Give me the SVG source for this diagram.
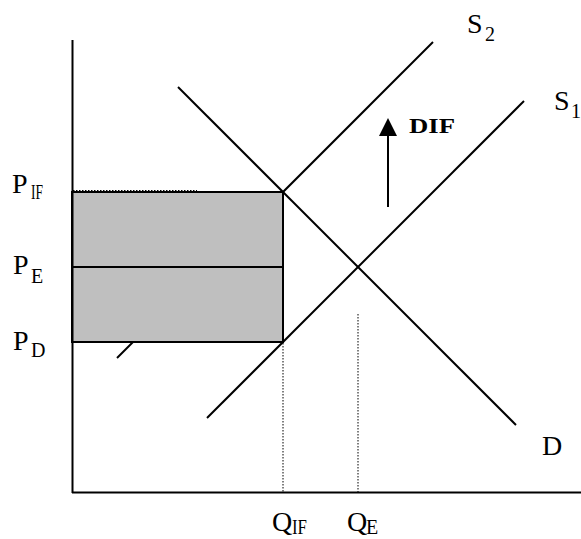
<svg xmlns="http://www.w3.org/2000/svg" width="581" height="539" viewBox="0 0 581 539">
<style>
.ln{stroke:#000;stroke-width:2;fill:none}
.ax{stroke:#000;stroke-width:2;fill:none}
.dot{stroke:#000;stroke-width:1;stroke-dasharray:1.5,1.5;fill:none}
.t{font-family:"Liberation Serif","Times New Roman",serif;fill:#000;font-size:28px}
.s{font-family:"Liberation Serif","Times New Roman",serif;fill:#000;font-size:20px}
.b{font-family:"Liberation Serif","Times New Roman",serif;fill:#000;font-size:21px;font-weight:bold}
</style>
<rect width="581" height="539" fill="#fff"/>
<g id="connectors">
<line id="S2" class="ln" x1="117" y1="358" x2="433" y2="42"/>
<line id="S1" class="ln" x1="207" y1="418" x2="524" y2="101"/>
<line id="D" class="ln" x1="178" y1="87" x2="516" y2="425"/>
<line class="dot" x1="283" y1="343" x2="283" y2="492"/>
<line class="dot" x1="358" y1="314" x2="358" y2="492"/>
<line class="dot" x1="73" y1="190.5" x2="197" y2="190.5"/>
<line class="ln" x1="388" y1="207" x2="388" y2="134"/>
<polygon points="388,118 379,136 397,136" fill="#000"/>
</g>
<g id="box">
<rect x="72" y="192" width="211" height="150" fill="#bfbfbf" stroke="#000" stroke-width="2"/>
<line class="ln" x1="72" y1="267" x2="283" y2="267"/>
</g>
<g id="axes">
<line class="ax" x1="72.5" y1="40" x2="72.5" y2="493"/>
<line class="ax" x1="72" y1="492.5" x2="581" y2="492.5"/>
</g>
<g id="labels">
<text class="t" x="12" y="193">P</text><text class="s" x="31" y="199" textLength="12" lengthAdjust="spacingAndGlyphs">IF</text>
<text class="t" x="13" y="274">P</text><text class="s" x="31" y="283">E</text>
<text class="t" x="13" y="350">P</text><text class="s" x="31" y="357">D</text>
<text class="t" x="272" y="531">Q</text><text class="s" x="292" y="534" textLength="15" lengthAdjust="spacingAndGlyphs">IF</text>
<text class="t" x="347" y="531">Q</text><text class="s" x="366" y="534">E</text>
<text class="t" x="467" y="33">S</text><text class="s" x="485" y="41">2</text>
<text class="t" x="554" y="110">S</text><text class="s" x="571" y="118">1</text>
<text class="t" x="542" y="455">D</text>
<text class="b" x="409" y="133" textLength="46" lengthAdjust="spacingAndGlyphs">DIF</text>
</g>
</svg>
